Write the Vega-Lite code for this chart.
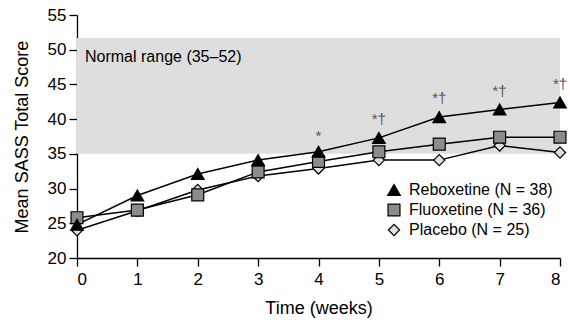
{
  "$schema": "https://vega.github.io/schema/vega-lite/v6.json",
  "autosize": {"type": "none"},
  "width": 483,
  "height": 243,
  "padding": {"left": 77, "top": 15, "right": 10, "bottom": 62},
  "config": {
    "view": {"stroke": null},
    "font": "Liberation Sans",
    "text": {"font": "Liberation Sans"},
    "legend": {"labelFont": "Liberation Sans"},
    "axis": {"domainColor": "black", "tickColor": "black", "labelColor": "black", "titleColor": "black", "grid": false, "labelFont": "Liberation Sans", "titleFont": "Liberation Sans", "titleFontWeight": "normal", "domainWidth": 1.3, "tickWidth": 1.3, "labelFontSize": 17, "titleFontSize": 18, "tickSize": 8}
  },
  "datasets": {
    "scores": [
      {"week": 0, "series": "Placebo (N = 25)", "score": 24.0},
      {"week": 1, "series": "Placebo (N = 25)", "score": 26.8},
      {"week": 2, "series": "Placebo (N = 25)", "score": 29.8},
      {"week": 3, "series": "Placebo (N = 25)", "score": 31.8},
      {"week": 4, "series": "Placebo (N = 25)", "score": 32.9},
      {"week": 5, "series": "Placebo (N = 25)", "score": 34.1},
      {"week": 6, "series": "Placebo (N = 25)", "score": 34.1},
      {"week": 7, "series": "Placebo (N = 25)", "score": 36.2},
      {"week": 8, "series": "Placebo (N = 25)", "score": 35.2},
      {"week": 0, "series": "Fluoxetine (N = 36)", "score": 25.8},
      {"week": 1, "series": "Fluoxetine (N = 36)", "score": 26.9},
      {"week": 2, "series": "Fluoxetine (N = 36)", "score": 29.1},
      {"week": 3, "series": "Fluoxetine (N = 36)", "score": 32.4},
      {"week": 4, "series": "Fluoxetine (N = 36)", "score": 33.9},
      {"week": 5, "series": "Fluoxetine (N = 36)", "score": 35.3},
      {"week": 6, "series": "Fluoxetine (N = 36)", "score": 36.4},
      {"week": 7, "series": "Fluoxetine (N = 36)", "score": 37.4},
      {"week": 8, "series": "Fluoxetine (N = 36)", "score": 37.4},
      {"week": 0, "series": "Reboxetine (N = 38)", "score": 24.8},
      {"week": 1, "series": "Reboxetine (N = 38)", "score": 29.0},
      {"week": 2, "series": "Reboxetine (N = 38)", "score": 32.1},
      {"week": 3, "series": "Reboxetine (N = 38)", "score": 34.1},
      {"week": 4, "series": "Reboxetine (N = 38)", "score": 35.3},
      {"week": 5, "series": "Reboxetine (N = 38)", "score": 37.3},
      {"week": 6, "series": "Reboxetine (N = 38)", "score": 40.3},
      {"week": 7, "series": "Reboxetine (N = 38)", "score": 41.4},
      {"week": 8, "series": "Reboxetine (N = 38)", "score": 42.4}
    ],
    "band": [{"week": 0, "weekEnd": 8, "score": 35, "scoreTop": 51.7}],
    "bandLabel": [{"week": 0, "score": 49.0, "label": "Normal range (35–52)"}],
    "marks": [
      {"week": 4, "score": 37.6, "sig": "*"},
      {"week": 5, "score": 40.0, "sig": "*†"},
      {"week": 6, "score": 43.0, "sig": "*†"},
      {"week": 7, "score": 44.0, "sig": "*†"},
      {"week": 8, "score": 45.0, "sig": "*†"}
    ]
  },
  "encoding": {
    "x": {"field": "week", "type": "quantitative", "scale": {"domain": [0, 8]},
      "axis": {"title": "Time (weeks)", "values": [0,1,2,3,4,5,6,7,8], "format": "d", "labelPadding": 5, "titlePadding": 12, "labelFontSize": 17, "titleFontSize": 18, "titleFontWeight": "normal"}},
    "y": {"field": "score", "type": "quantitative", "scale": {"domain": [20, 55]},
      "axis": {"title": "Mean SASS Total Score", "values": [20,25,30,35,40,45,50,55], "format": "d", "labelPadding": 3, "titlePadding": 16, "labelFontSize": 17, "titleFontSize": 18, "titleFontWeight": "normal"}}
  },
  "layer": [
    {
      "data": {"name": "band"},
      "mark": {"type": "rect", "fill": "#dedede"},
      "encoding": {
        "x2": {"field": "weekEnd"},
        "y2": {"field": "scoreTop"}
      }
    },
    {
      "data": {"name": "bandLabel"},
      "mark": {"type": "text", "align": "left", "baseline": "middle", "dx": 8, "fontSize": 16, "color": "black"},
      "encoding": {
        "text": {"field": "label"}
      }
    },
    {
      "data": {"name": "scores"},
      "mark": {"type": "line", "color": "black", "strokeWidth": 1.5},
      "encoding": {
        "detail": {"field": "series"}
      }
    },
    {
      "data": {"name": "scores"},
      "mark": {"type": "point", "filled": true, "stroke": "black", "strokeWidth": 1.2, "opacity": 1},
      "encoding": {
        "shape": {
          "field": "series", "type": "nominal",
          "scale": {"domain": ["Reboxetine (N = 38)", "Fluoxetine (N = 36)", "Placebo (N = 25)"], "range": ["triangle-up", "square", "diamond"]},
          "legend": {"title": null, "orient": "none", "legendX": 309, "legendY": 167, "labelFontSize": 16, "labelColor": "black", "symbolStrokeColor": "black", "symbolStrokeWidth": 1.2, "rowPadding": 3, "labelOffset": 7}
        },
        "fill": {
          "field": "series", "type": "nominal",
          "scale": {"domain": ["Reboxetine (N = 38)", "Fluoxetine (N = 36)", "Placebo (N = 25)"], "range": ["black", "#8c8c8c", "#e0e0e0"]},
          "legend": {"title": null, "orient": "none", "legendX": 309, "legendY": 167, "labelFontSize": 16}
        },
        "size": {
          "field": "series", "type": "nominal",
          "scale": {"domain": ["Reboxetine (N = 38)", "Fluoxetine (N = 36)", "Placebo (N = 25)"], "range": [160, 125, 140]},
          "legend": {"title": null, "orient": "none", "legendX": 309, "legendY": 167, "labelFontSize": 16}
        }
      }
    },
    {
      "data": {"name": "marks"},
      "mark": {"type": "text", "fontSize": 15, "color": "#555555", "baseline": "middle"},
      "encoding": {
        "text": {"field": "sig"}
      }
    }
  ]
}
